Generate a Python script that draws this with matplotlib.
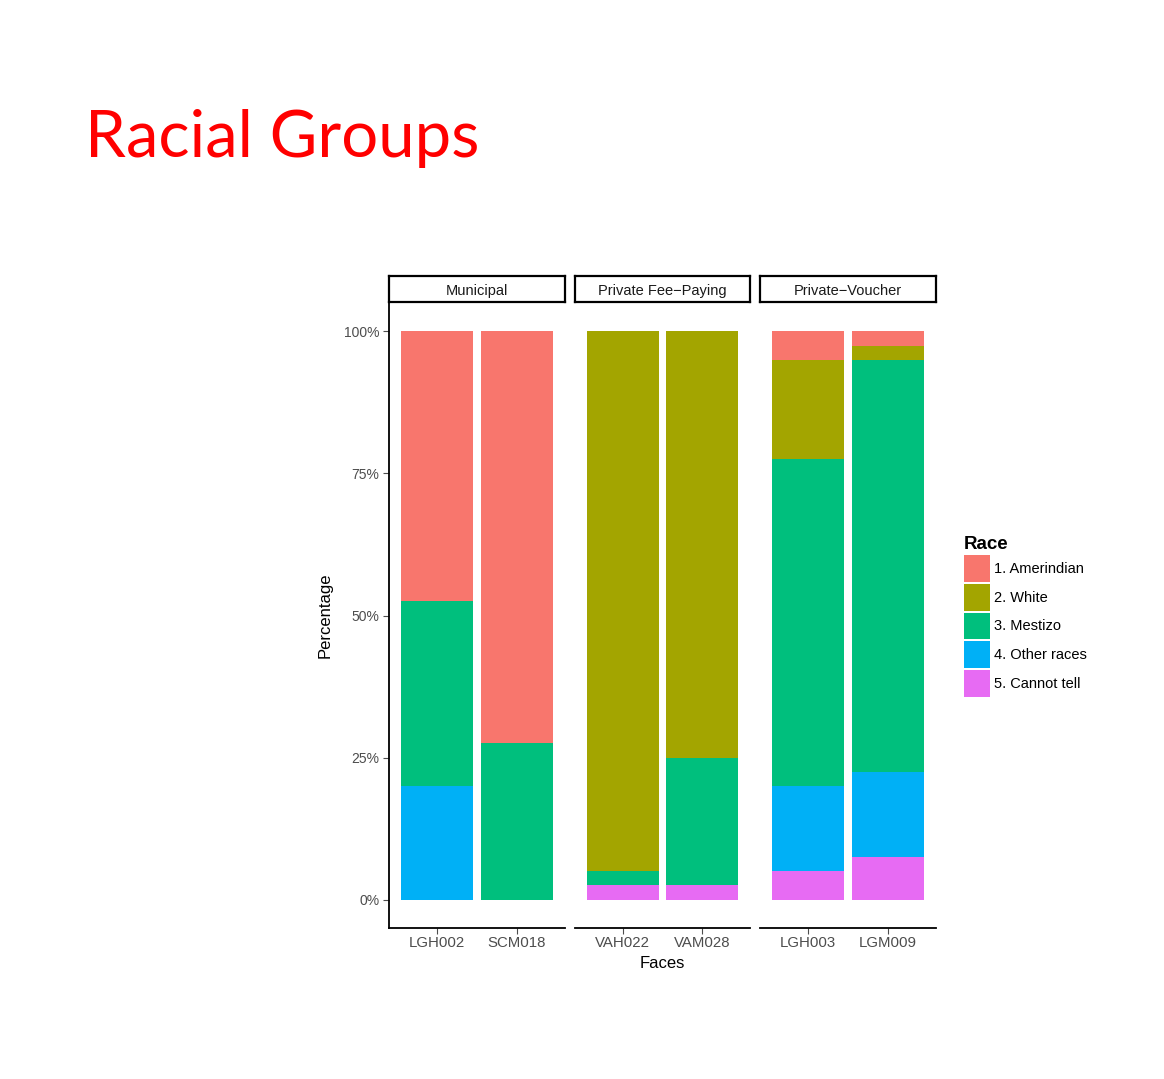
import matplotlib
matplotlib.use("Agg")
import matplotlib.pyplot as plt
from matplotlib.patches import Patch
import numpy as np

plt.rcParams['font.family'] = ['Liberation Sans', 'DejaVu Sans']

panels = ["Municipal", "Private Fee\u2212Paying", "Private\u2212Voucher"]
faces = [["LGH002", "SCM018"], ["VAH022", "VAM028"], ["LGH003", "LGM009"]]
races = ["1. Amerindian", "2. White", "3. Mestizo", "4. Other races", "5. Cannot tell"]
colors = ["#F8766D", "#A3A500", "#00BF7D", "#00B0F6", "#E76BF3"]

# percentages per face, order: Amerindian, White, Mestizo, Other, Cannot tell
amerindian = [[47.5, 72.5], [0.0, 0.0], [5.0, 2.5]]
white      = [[0.0, 0.0], [95.0, 75.0], [17.5, 2.5]]
mestizo    = [[32.5, 27.5], [2.5, 22.5], [57.5, 72.5]]
other      = [[20.0, 0.0], [0.0, 0.0], [15.0, 15.0]]
cannot     = [[0.0, 0.0], [2.5, 2.5], [5.0, 7.5]]
series = [amerindian, white, mestizo, other, cannot]

W, H = 1164, 1079
fig = plt.figure(figsize=(W / 100, H / 100), dpi=100)

fig.text(85 / W, 1 - 157 / H, "Racial Groups", color="red", fontsize=47,
         family=["Lato", "DejaVu Sans"], ha="left", va="baseline")

panel_x = [(389, 565), (575, 750), (760, 936)]
ptop, pbot = 303, 928
stop, sbot = 276, 302
grey = "#4d4d4d"

for i, (x0, x1) in enumerate(panel_x):
    ax = fig.add_axes([x0 / W, 1 - pbot / H, (x1 - x0) / W, (pbot - ptop) / H])
    xs = np.arange(1, len(faces[i]) + 1)
    bottom = np.zeros(len(xs))
    # stack from bottom: Cannot tell, Other, Mestizo, White, Amerindian
    for k in range(len(races) - 1, -1, -1):
        vals = np.array(series[k][i]) / 100.0
        ax.bar(xs, vals, width=0.9, bottom=bottom, color=colors[k], linewidth=0)
        bottom += vals
    ax.set_xlim(0.4, len(xs) + 0.6)
    ax.set_ylim(-0.05, 1.05)
    ax.set_xticks(xs)
    ax.set_xticklabels(faces[i], fontsize=10.8, color=grey)
    for s in ["top", "right"]:
        ax.spines[s].set_visible(False)
    ax.spines["bottom"].set_linewidth(1.3)
    ax.tick_params(axis="x", length=4, width=0.8, color=grey, pad=2)
    if i == 0:
        ax.spines["left"].set_linewidth(1.3)
        ax.set_yticks([0, 0.25, 0.5, 0.75, 1.0])
        ax.set_yticklabels(["0%", "25%", "50%", "75%", "100%"], fontsize=10, color=grey)
        ax.tick_params(axis="y", length=4, width=0.8, color=grey, pad=3)
        ax.set_ylabel("Percentage", fontsize=12, labelpad=8)
    else:
        ax.spines["left"].set_visible(False)
        ax.set_yticks([])
    if i == 1:
        ax.set_xlabel("Faces", fontsize=12, labelpad=4)

    sax = fig.add_axes([x0 / W, 1 - sbot / H, (x1 - x0) / W, (sbot - stop) / H])
    sax.set_xticks([])
    sax.set_yticks([])
    for s in sax.spines.values():
        s.set_linewidth(1.6)
        s.set_color("black")
    sax.text(0.5, 0.42, panels[i], ha="center", va="center", fontsize=10.5,
             color="#1a1a1a", transform=sax.transAxes)

handles = [Patch(facecolor=c, edgecolor="none", label=r) for c, r in zip(colors, races)]
leg = fig.legend(handles=handles, loc="upper left",
                 bbox_to_anchor=(958 / W, 1 - 530 / H), frameon=False,
                 title="Race", fontsize=10.5, handlelength=1.8, handleheight=2.45,
                 labelspacing=0.14, handletextpad=0.3, borderaxespad=0,
                 alignment="left")
leg.get_title().set_fontweight("bold")
leg.get_title().set_fontsize(13.5)

fig.savefig("out.png", dpi=100)
